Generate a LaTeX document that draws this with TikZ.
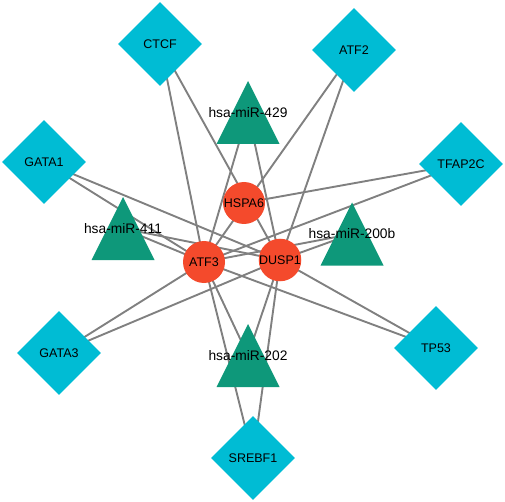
\documentclass[tikz,border=0pt]{standalone}
\usepackage{fontspec}
\setmainfont{Liberation Sans}
\usetikzlibrary{shapes.geometric,backgrounds}
\definecolor{tfcol}{RGB}{0,188,212}
\definecolor{mircol}{RGB}{14,152,122}
\definecolor{genecol}{RGB}{244,74,44}
\definecolor{edgecol}{RGB}{128,128,128}
\tikzset{
  tf/.style={diamond, fill=tfcol, minimum width=84pt, minimum height=84pt, inner sep=0pt,
    font=\fontsize{12.5}{14}\selectfont},
  gene/.style={circle, fill=genecol, minimum size=42pt, inner sep=0pt,
    font=\fontsize{12.5}{14}\selectfont},
  mir/.style={rectangle, minimum width=63pt, minimum height=63pt, inner sep=0pt,
    path picture={\fill[mircol] (path picture bounding box.south west) -- (path picture bounding box.south east) -- (path picture bounding box.north) -- cycle;},
    label={[font=\fontsize{13.8}{15}\selectfont, inner sep=0pt]center:#1}},
  edge/.style={draw=edgecol, line width=1.9pt}
}
\begin{document}
\begin{tikzpicture}[x=1pt,y=-1pt]
\useasboundingbox (0,0) rectangle (505,502);
% transcription factors
\node[tf] (CTCF) at (160,44) {CTCF};
\node[tf] (ATF2) at (354,50) {ATF2};
\node[tf] (GATA1) at (44,162) {GATA1};
\node[tf] (TFAP2C) at (461,164) {TFAP2C};
\node[tf] (GATA3) at (59,353) {GATA3};
\node[tf] (TP53) at (436,348) {TP53};
\node[tf] (SREBF1) at (253,458) {SREBF1};
% miRNAs
\node[mir=hsa-miR-429] (m429) at (248,112.5) {};
\node[mir=hsa-miR-411] (m411) at (123,228.5) {};
\node[mir=hsa-miR-200b] (m200b) at (352,234) {};
\node[mir=hsa-miR-202] (m202) at (248,355.5) {};
% genes
\node[gene] (HSPA6) at (244,203) {HSPA6};
\node[gene] (ATF3) at (204,262) {ATF3};
\node[gene] (DUSP1) at (280,260) {DUSP1};
% edges
\begin{scope}[on background layer]
\foreach \a/\b in {CTCF/ATF3, CTCF/DUSP1, ATF2/ATF3, ATF2/DUSP1,
  GATA1/ATF3, GATA1/DUSP1, TFAP2C/HSPA6, TFAP2C/ATF3,
  GATA3/ATF3, GATA3/DUSP1, TP53/ATF3, TP53/DUSP1,
  SREBF1/ATF3, SREBF1/DUSP1, m429/ATF3, m429/DUSP1,
  m411/ATF3, m411/DUSP1, m200b/ATF3, m200b/DUSP1,
  m202/ATF3, m202/DUSP1}
  \draw[edge] (\a.center) -- (\b.center);
\end{scope}
\end{tikzpicture}
\end{document}
